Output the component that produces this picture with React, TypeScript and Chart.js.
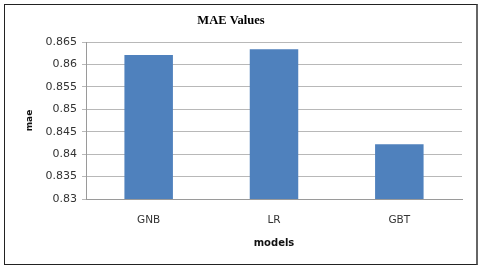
import React, { useEffect, useRef } from "react";
import { Chart, registerables } from "chart.js";

Chart.register(...registerables);

const categories = ["GNB", "LR", "GBT"];
const maeValues = [0.8621, 0.8634, 0.8422];
const yMin = 0.83;
const yMax = 0.865;
const yStep = 0.005;

export default function App() {
  const ref = useRef<HTMLCanvasElement | null>(null);

  useEffect(() => {
    document.body.style.margin = "0";
    const ctx = ref.current;
    if (!ctx) return;
    const chart = new Chart(ctx, {
      type: "bar",
      data: {
        labels: categories,
        datasets: [
          {
            label: "mae",
            data: maeValues,
            backgroundColor: "#4f81bd",
            borderWidth: 0,
            categoryPercentage: 1,
            barPercentage: 0.387,
          },
        ],
      },
      options: {
        animation: false,
        responsive: false,
        maintainAspectRatio: false,
        layout: { padding: { left: 0, right: 26, top: 0, bottom: 0 } },
        plugins: {
          legend: { display: false },
          tooltip: { enabled: false },
          title: {
            display: true,
            text: "MAE Values",
            color: "#000",
            font: { family: "Liberation Serif", size: 12.5, weight: "bold", lineHeight: 1.2 },
            padding: { top: 13, bottom: 14 },
          },
        },
        scales: {
          x: {
            grid: { display: false },
            border: { display: true, color: "#9a9a9a" },
            ticks: {
              color: "#333",
              padding: 7,
              font: { family: "DejaVu Sans", size: 10.5 },
            },
            title: {
              display: true,
              text: "models",
              color: "#111",
              font: { family: "DejaVu Sans", size: 10, weight: "bold", lineHeight: 1.2 },
              padding: { top: 0, bottom: 21 },
            },
            afterFit: (scale: any) => {
              scale.height = 71;
            },
          },
          y: {
            min: yMin,
            max: yMax,
            grid: { color: "#b8b8b8", tickLength: 4, drawTicks: true },
            border: { display: true, color: "#9a9a9a" },
            ticks: {
              stepSize: yStep,
              color: "#333",
              padding: 5,
              font: { family: "DejaVu Sans", size: 11 },
              callback: (v: any) => String(+(+v).toFixed(3)),
            },
            title: {
              display: true,
              text: "mae",
              color: "#111",
              font: { family: "DejaVu Sans", size: 9, weight: "bold", lineHeight: 1.2 },
              padding: { top: 24.6, bottom: 0 },
            },
            afterFit: (scale: any) => {
              scale.width = 86;
            },
          },
        },
      },
    });
    return () => chart.destroy();
  }, []);

  return (
    <div style={{ position: "relative", width: 488, height: 270, background: "#fff" }}>
      <div
        style={{
          position: "absolute",
          left: 4,
          top: 4,
          width: 471,
          height: 259,
          borderTop: "1px solid #222",
          borderLeft: "1px solid #222",
          borderBottom: "1px solid #222",
          borderRight: "2px solid #666",
        }}
      />
      <canvas ref={ref} width={488} height={270} style={{ position: "absolute", left: 0, top: 0 }} />
    </div>
  );
}
